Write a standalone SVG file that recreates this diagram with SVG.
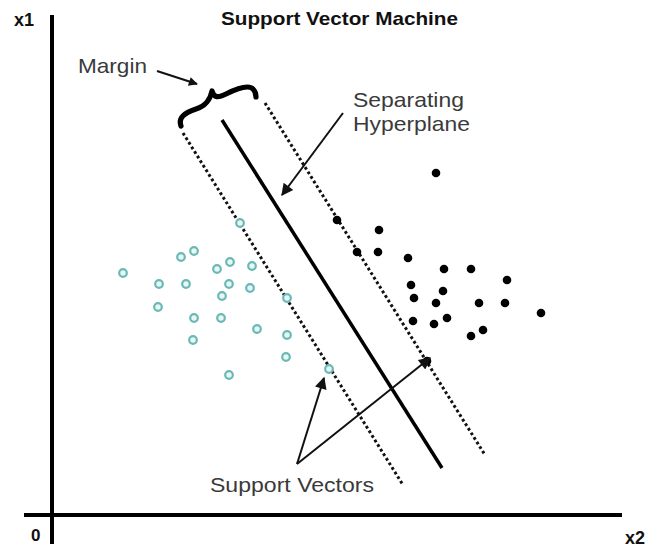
<svg xmlns="http://www.w3.org/2000/svg" width="664" height="548" viewBox="0 0 664 548">
<style>
.lbl{font-family:"Liberation Sans",Arial,sans-serif;font-size:21px;fill:#3a3a3a}
.bold{font-family:"Liberation Sans",Arial,sans-serif;font-weight:bold;fill:#111}
.axis{stroke:#000;stroke-width:4;fill:none}
.dot{stroke:#111;stroke-width:3;stroke-dasharray:2.8 2.6;fill:none}
.pl{stroke:#000;stroke-width:3.5;fill:none}
.arr{stroke:#111;stroke-width:2;fill:none}
.neg{fill:#e6f7f6;stroke:#6bb8b5;stroke-width:2.2}
.pos{fill:#000}
</style>
<defs>
<marker id="ah" viewBox="0 0 10 10" refX="9" refY="5" markerWidth="11" markerHeight="9" markerUnits="userSpaceOnUse" orient="auto">
<path d="M0,0 L10,5 L0,10 z" fill="#111"/>
</marker>
<marker id="ahb" viewBox="0 0 10 10" refX="9" refY="5" markerWidth="14" markerHeight="12" markerUnits="userSpaceOnUse" orient="auto">
<path d="M0,0 L10,5 L0,10 z" fill="#111"/>
</marker>
</defs>
<text class="bold" x="221" y="25" font-size="19" textLength="237" lengthAdjust="spacingAndGlyphs">Support Vector Machine</text>
<g id="axes">
<line class="axis" x1="52" y1="15" x2="52" y2="544"/>
<line class="axis" x1="24" y1="515" x2="622" y2="515"/>
<text class="bold" x="14" y="26" font-size="18">x1</text>
<text class="bold" x="31" y="541" font-size="17">0</text>
<text class="bold" x="625" y="544" font-size="18">x2</text>
</g>
<g id="margin-lines">
<line class="dot" x1="183" y1="133" x2="403" y2="485"/>
<line class="pl" x1="222" y1="120" x2="442" y2="468"/>
<line class="dot" x1="265" y1="103" x2="485" y2="455"/>
</g>
<g id="brace">
<path d="M181,126 C178,118 184,113 196,109 C206,106 210,100 212,91 C214,98 218,98 226,94 C236,89 248,84 253,89 C256,92 256,95 256,97" fill="none" stroke="#000" stroke-width="5.2" stroke-linecap="round" stroke-linejoin="round"/>
</g>
<g id="negatives">
<circle class="neg" cx="123" cy="273" r="3.8"/>
<circle class="neg" cx="181" cy="257" r="3.8"/>
<circle class="neg" cx="194" cy="251" r="3.8"/>
<circle class="neg" cx="217" cy="269" r="3.8"/>
<circle class="neg" cx="230" cy="262" r="3.8"/>
<circle class="neg" cx="252" cy="266" r="3.8"/>
<circle class="neg" cx="240" cy="223" r="3.8"/>
<circle class="neg" cx="159" cy="284" r="3.8"/>
<circle class="neg" cx="186" cy="284" r="3.8"/>
<circle class="neg" cx="229" cy="284" r="3.8"/>
<circle class="neg" cx="250" cy="288" r="3.8"/>
<circle class="neg" cx="222" cy="296" r="3.8"/>
<circle class="neg" cx="158" cy="307" r="3.8"/>
<circle class="neg" cx="287" cy="298" r="3.8"/>
<circle class="neg" cx="194" cy="318" r="3.8"/>
<circle class="neg" cx="221" cy="318" r="3.8"/>
<circle class="neg" cx="257" cy="329" r="3.8"/>
<circle class="neg" cx="287" cy="335" r="3.8"/>
<circle class="neg" cx="193" cy="340" r="3.8"/>
<circle class="neg" cx="286" cy="357" r="3.8"/>
<circle class="neg" cx="229" cy="375" r="3.8"/>
<circle class="neg" cx="329" cy="369" r="3.8"/>
</g>
<g id="positives">
<circle class="pos" cx="436" cy="173" r="4.3"/>
<circle class="pos" cx="337" cy="220" r="4.3"/>
<circle class="pos" cx="379" cy="230" r="4.3"/>
<circle class="pos" cx="357" cy="252" r="4.3"/>
<circle class="pos" cx="378" cy="252" r="4.3"/>
<circle class="pos" cx="408" cy="258" r="4.3"/>
<circle class="pos" cx="444" cy="269" r="4.3"/>
<circle class="pos" cx="471" cy="269" r="4.3"/>
<circle class="pos" cx="507" cy="280" r="4.3"/>
<circle class="pos" cx="411" cy="285" r="4.3"/>
<circle class="pos" cx="443" cy="291" r="4.3"/>
<circle class="pos" cx="414" cy="298" r="4.3"/>
<circle class="pos" cx="436" cy="303" r="4.3"/>
<circle class="pos" cx="479" cy="303" r="4.3"/>
<circle class="pos" cx="505" cy="303" r="4.3"/>
<circle class="pos" cx="541" cy="313" r="4.3"/>
<circle class="pos" cx="413" cy="321" r="4.3"/>
<circle class="pos" cx="434" cy="324" r="4.3"/>
<circle class="pos" cx="447" cy="318" r="4.3"/>
<circle class="pos" cx="483" cy="330" r="4.3"/>
<circle class="pos" cx="471" cy="336" r="4.3"/>
<circle class="pos" cx="427" cy="361" r="4.3"/>
</g>
<g id="connectors">
<line class="arr" x1="157" y1="71" x2="197" y2="84" marker-end="url(#ah)"/>
<line class="arr" x1="343" y1="113" x2="282" y2="195" marker-end="url(#ahb)"/>
<line class="arr" x1="297" y1="464" x2="324" y2="378" marker-end="url(#ahb)"/>
<line class="arr" x1="297" y1="464" x2="430" y2="358" marker-end="url(#ahb)"/>
</g>
<g id="labels">
<text class="lbl" x="78" y="73" textLength="69" lengthAdjust="spacingAndGlyphs">Margin</text>
<text class="lbl" x="353" y="107" textLength="111" lengthAdjust="spacingAndGlyphs">Separating</text>
<text class="lbl" x="353" y="131" textLength="117" lengthAdjust="spacingAndGlyphs">Hyperplane</text>
<text class="lbl" x="210" y="492" textLength="164" lengthAdjust="spacingAndGlyphs">Support Vectors</text>
</g>
</svg>
